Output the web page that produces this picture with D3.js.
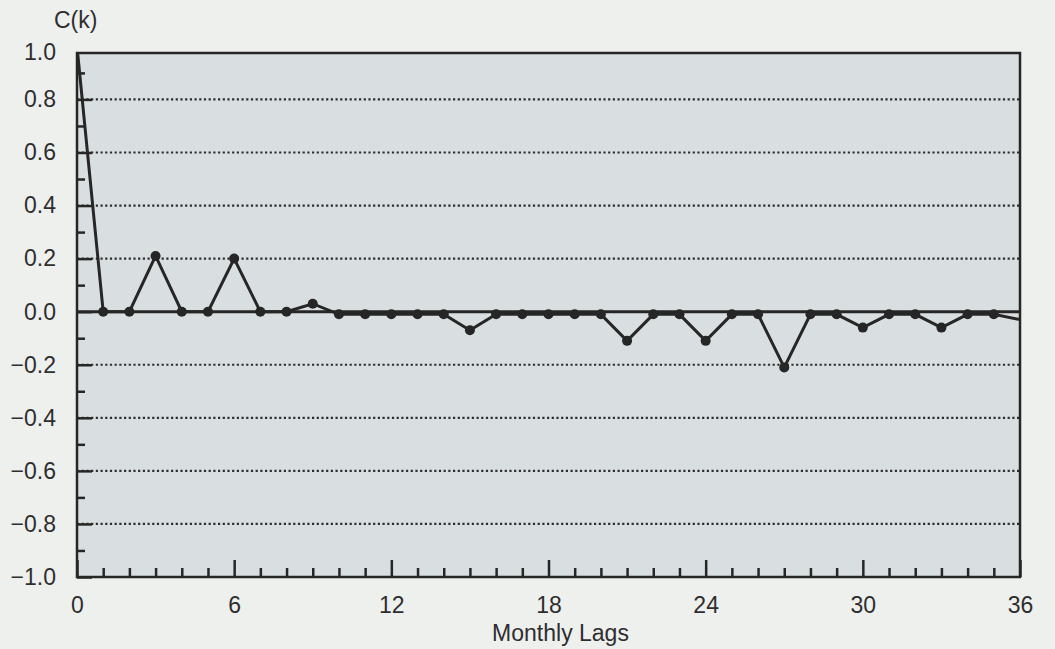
<!DOCTYPE html>
<html>
<head>
<meta charset="utf-8">
<script src="https://cdn.jsdelivr.net/npm/d3@7"></script>
<style>
	body { margin: 0; background: #eef0ee; }
	svg text { font-family: "Liberation Sans", Arial, sans-serif; fill: #2e2e2e; }
</style>
</head>
<body>
<svg id="svgChart" width="1055" height="649"></svg>
<script>
// monthly lags and autocorrelation values C(k)
var lags = [0, 1, 2, 3, 4, 5, 6, 7, 8, 9, 10, 11, 12, 13, 14, 15, 16, 17, 18,
			19, 20, 21, 22, 23, 24, 25, 26, 27, 28, 29, 30, 31, 32, 33, 34, 35, 36];
var acf = [1.0, 0.0, 0.0, 0.21, 0.0, 0.0, 0.20, 0.0, 0.0, 0.03, -0.01, -0.01, -0.01,
			-0.01, -0.01, -0.07, -0.01, -0.01, -0.01, -0.01, -0.01, -0.11, -0.01, -0.01,
			-0.11, -0.01, -0.01, -0.21, -0.01, -0.01, -0.06, -0.01, -0.01, -0.06, -0.01,
			-0.01, -0.03];
var xMajorTicks = [0, 6, 12, 18, 24, 30, 36];
var yMajorTicks = [-1.0, -0.8, -0.6, -0.4, -0.2, 0.0, 0.2, 0.4, 0.6, 0.8];
var yMinorTicks = [-0.9, -0.7, -0.5, -0.3, -0.1, 0.1, 0.3, 0.5, 0.7, 0.9];
var gridValues = [-0.8, -0.6, -0.4, -0.2, 0.2, 0.4, 0.6, 0.8];
var yTopLabel = "1.0";
var yLabel = "C(k)";
var xLabel = "Monthly Lags";

class AcfChart{
	constructor(svgId){
		/*
			Builds scales and draws the whole chart in the svg
		*/
		this.svg = d3.select(svgId);
		this.left = 77; this.right = 1020; this.top = 53; this.bottom = 577;
		this.ink = "#262626";
		this.xScale = d3.scaleLinear().domain([0, 36]).range([this.left, this.right]);
		// the printed frame stops a bit under 1.0, top label sits at the frame edge
		this.yScale = d3.scaleLinear().domain([-1, 0.975]).range([this.bottom, this.top]);

		this._drawBackground();
		this._drawGrid();
		this._drawAxis();
		this._drawSeries();
		this._drawFrame();
		this._drawLabels();
	}
	_drawBackground(){
		this.svg.append("rect")
			.attr("x", this.left).attr("y", this.top)
			.attr("width", this.right - this.left)
			.attr("height", this.bottom - this.top)
			.style("fill", "#d9dfe0");
		this.svg.append("clipPath").attr("id", "plotClip")
			.append("rect")
			.attr("x", this.left).attr("y", this.top)
			.attr("width", this.right - this.left)
			.attr("height", this.bottom - this.top);
	}
	_drawGrid(){
		var that = this;
		this.svg.append("g").selectAll("line")
			.data(gridValues)
			.enter().append("line")
			.attr("x1", this.left).attr("x2", this.right)
			.attr("y1", function(d){ return that.yScale(d); })
			.attr("y2", function(d){ return that.yScale(d); })
			.attr("stroke", "#2e2e2e")
			.attr("stroke-width", 2.2)
			.attr("stroke-dasharray", "2.2,2.5");
		// solid zero line
		this.svg.append("line")
			.attr("x1", this.left).attr("x2", this.right)
			.attr("y1", this.yScale(0)).attr("y2", this.yScale(0))
			.attr("stroke", this.ink)
			.attr("stroke-width", 3);
	}
	_drawAxis(){
		var yMajor = d3.axisLeft(this.yScale)
			.tickValues(yMajorTicks)
			.tickSize(-15)
			.tickPadding(21)
			.tickFormat(function(d){ return d3.format(".1f")(d).replace("-", "\u2212"); });
		var gy = this.svg.append("g")
			.attr("transform", "translate(" + this.left + ",0)")
			.call(yMajor);
		gy.select(".domain").remove();

		var yMinor = d3.axisLeft(this.yScale)
			.tickValues(yMinorTicks)
			.tickSize(-8)
			.tickFormat("");
		var gym = this.svg.append("g")
			.attr("transform", "translate(" + this.left + ",0)")
			.call(yMinor);
		gym.select(".domain").remove();

		var xMajor = d3.axisBottom(this.xScale)
			.tickValues(xMajorTicks)
			.tickSize(-17)
			.tickPadding(20);
		var gx = this.svg.append("g")
			.attr("transform", "translate(0," + this.bottom + ")")
			.call(xMajor);
		gx.select(".domain").remove();

		var xMinor = d3.axisBottom(this.xScale)
			.tickValues(lags.filter(function(d){ return d % 6 != 0; }))
			.tickSize(-9)
			.tickFormat("");
		var gxm = this.svg.append("g")
			.attr("transform", "translate(0," + this.bottom + ")")
			.call(xMinor);
		gxm.select(".domain").remove();

		this.svg.selectAll(".tick line")
			.attr("stroke", this.ink)
			.attr("stroke-width", 2.5);
		this.svg.selectAll(".tick text")
			.style("font-size", "23px")
			.style("font-family", "\"Liberation Sans\", Arial, sans-serif")
			.attr("fill", "#2e2e2e");

		// label for the top of the frame
		this.svg.append("text")
			.attr("x", this.left - 21)
			.attr("y", this.top)
			.attr("dy", "0.32em")
			.attr("text-anchor", "end")
			.style("font-size", "23px")
			.text(yTopLabel);
	}
	_drawSeries(){
		var that = this;
		var pts = lags.map(function(k, i){ return {lag: k, value: acf[i]}; });
		var line = d3.line()
			.x(function(d){ return that.xScale(d.lag); })
			.y(function(d){ return that.yScale(d.value); });
		var g = this.svg.append("g").attr("clip-path", "url(#plotClip)");
		g.append("path")
			.datum(pts)
			.attr("d", line)
			.attr("fill", "none")
			.attr("stroke", this.ink)
			.attr("stroke-width", 3);
		// no markers on the two end points (they sit on the frame)
		g.selectAll(".dot")
			.data(pts.filter(function(d){ return d.lag > 0 && d.lag < 36; }))
			.enter().append("circle")
			.attr("class", "dot")
			.attr("cx", function(d){ return that.xScale(d.lag); })
			.attr("cy", function(d){ return that.yScale(d.value); })
			.attr("r", 5)
			.style("fill", this.ink);
	}
	_drawFrame(){
		this.svg.append("rect")
			.attr("x", this.left).attr("y", this.top)
			.attr("width", this.right - this.left)
			.attr("height", this.bottom - this.top)
			.attr("fill", "none")
			.attr("stroke", this.ink)
			.attr("stroke-width", 2.5);
	}
	_drawLabels(){
		this.svg.append("text")
			.attr("x", 54).attr("y", 28)
			.style("font-size", "23px")
			.text(yLabel);
		this.svg.append("text")
			.attr("x", (this.left + this.right) / 2 + 12)
			.attr("y", 641)
			.attr("text-anchor", "middle")
			.style("font-size", "23px")
			.text(xLabel);
	}
}

new AcfChart("#svgChart");
</script>
</body>
</html>
